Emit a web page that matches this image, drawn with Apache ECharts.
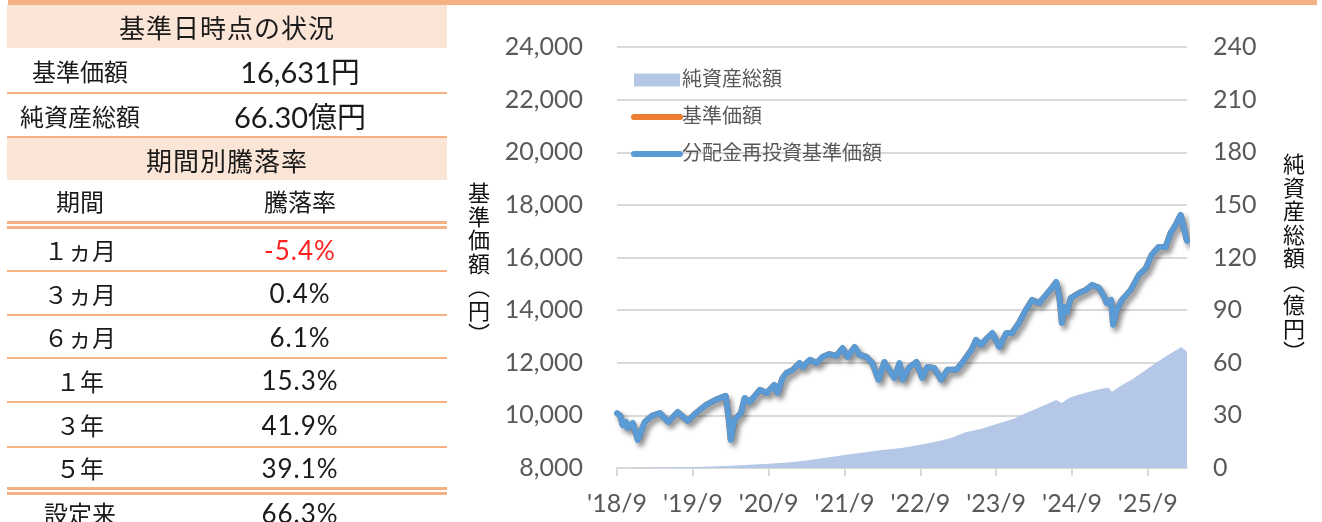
<!DOCTYPE html>
<html>
<head>
<meta charset="utf-8">
<script src="https://cdn.jsdelivr.net/npm/echarts@6/dist/echarts.min.js"></script>
<style>
body{margin:0;width:1322px;height:522px;overflow:hidden;background:#fff;font-family:Lato,'Noto Sans CJK JP',sans-serif;}
#chart{position:absolute;left:0;top:0;width:1322px;height:522px;}
#topbar{position:absolute;left:8px;top:0;width:1309px;height:5px;background:#F4B183;}
#tbl{position:absolute;left:7px;top:5px;width:440px;color:#1a1a1a;}
.r{box-sizing:border-box;display:flex;align-items:center;border-bottom:2.5px solid #F4B183;font-size:24px;}
.r.h{background:#FBE5D6;justify-content:center;font-size:26px;border-bottom:none;letter-spacing:1px;}
.r.dbl{border-bottom:8px double #F4B183;}
.c1{width:146px;text-align:center;}
.c2{width:294px;text-align:center;}
.rate .c2{font-size:26px;letter-spacing:1px;}
.big .c2{font-size:29px;}
.neg{color:#ff2020;}
</style>
</head>
<body>
<div id="chart"></div>
<div id="topbar"></div>
<div id="tbl"></div>
<script type="text/javascript">
// 基準日時点の状況
var navNow = '16,631円';
var assetsNow = '66.30億円';
// 期間別騰落率
var periods = ['１ヵ月', '３ヵ月', '６ヵ月', '１年', '３年', '５年', '設定来'];
var returns = ['-5.4%', '0.4%', '6.1%', '15.3%', '41.9%', '39.1%', '66.3%'];

// x軸: '18/9 からの経過月数
var xTickMonths = [0, 12, 24, 36, 48, 60, 72, 84];
var xTickLabels = ["'18/9", "'19/9", "'20/9", "'21/9", "'22/9", "'23/9", "'24/9", "'25/9"];

// 基準価額（円）
var navMonths = [0, 0.5, 0.9, 1.4, 1.7, 2.5, 3.3, 4.4, 5.5, 6.8, 8.1, 9.6, 11.2, 12.5, 14.1, 15.6, 17.2, 17.7, 18.0, 18.6,
	19.6, 20.2, 21.0, 22.6, 23.7, 24.9, 25.4, 26.2, 26.8, 27.8, 28.9, 29.4, 30.5, 31.6, 32.5, 33.6, 34.7, 35.7, 36.5, 37.6,
	38.4, 39.5, 40.4, 41.4, 42.3, 43.4, 43.9, 44.7, 45.2, 46.3, 47.4, 48.3, 49.1, 50.2, 51.3, 52.3, 53.7, 54.6, 56.1, 56.8,
	57.6, 58.6, 59.4, 60.5, 61.6, 62.5, 63.6, 64.7, 65.7, 66.8, 67.9, 68.8, 69.5, 70.0, 70.4, 70.7, 71.2, 71.8, 73.1, 74.2,
	75.2, 76.3, 77.1, 77.5, 78.2, 78.5, 79.1, 79.9, 81.3, 82.6, 83.7, 84.6, 85.7, 86.8, 87.6, 88.4, 89.2, 89.7, 90.2];
var navValues = [10080, 10000, 9630, 9750, 9520, 9710, 9070, 9750, 9980, 10090, 9750, 10130, 9790, 10090, 10400, 10590, 10740, 9820, 9070, 9830,
	10090, 10660, 10510, 10970, 10850, 11160, 10850, 11420, 11610, 11730, 11990, 11840, 12110, 11990, 12220, 12330, 12260, 12560, 12220, 12600,
	12300, 12220, 11990, 11350, 12030, 11610, 11420, 11990, 11350, 11840, 12030, 11420, 11840, 11800, 11350, 11730, 11730, 11990, 12490, 12870,
	12680, 12940, 13130, 12600, 13130, 13130, 13510, 14010, 14390, 14270, 14580, 14840, 15070, 14500, 13510, 14120, 13930, 14460, 14650, 14770,
	14960, 14840, 14500, 14270, 14390, 13440, 14010, 14390, 14770, 15340, 15600, 16100, 16400, 16400, 16930, 17240, 17620, 17120, 16631];

// 純資産総額（億円）
var assetMonths = [0, 3, 6, 9, 12, 15, 18, 21, 24, 27, 30, 33, 36, 39, 42, 45, 48, 51, 53, 55,
	57.5, 60, 63, 64.5, 66, 68, 69.5, 70.4, 71.5, 73, 74.6, 76.5, 77.8, 78.3, 80, 81.5, 83.5, 85.3, 87.7, 89.3, 90.2];
var assetValues = [0.05, 0.15, 0.3, 0.45, 0.6, 0.9, 1.3, 1.8, 2.4, 3.2, 4.3, 5.8, 7.4, 8.8, 10.2, 11.4, 13.3, 15.4, 17.3, 20.3,
	22.2, 25.0, 28.3, 31.0, 33.2, 36.3, 38.8, 37.1, 39.9, 41.8, 43.3, 45.0, 45.8, 43.5, 47.5, 50.5, 55.5, 60.0, 65.6, 69.0, 66.3];

// 左の表
var html = '';
html += '<div class="r h" style="height:43px">基準日時点の状況</div>';
html += '<div class="r big" style="height:46px"><span class="c1">基準価額</span><span class="c2">' + navNow + '</span></div>';
html += '<div class="r big" style="height:44px"><span class="c1">純資産総額</span><span class="c2">' + assetsNow + '</span></div>';
html += '<div class="r h" style="height:42px">期間別騰落率</div>';
html += '<div class="r dbl" style="height:49px"><span class="c1">期間</span><span class="c2">騰落率</span></div>';
var rowH = [43, 44, 43, 44, 45, 47, 40];
for (var i = 0; i < periods.length; i++) {
	var cls = 'r rate';
	if (i == 5) cls += ' dbl';
	if (i == 6) cls += '" style="border-bottom:none';
	var neg = returns[i].charAt(0) == '-' ? ' neg' : '';
	html += '<div class="' + cls + '" style="height:' + rowH[i] + 'px"><span class="c1">' + periods[i] + '</span><span class="c2' + neg + '">' + returns[i] + '</span></div>';
}
document.getElementById('tbl').innerHTML = html;

var navData = navMonths.map(function(m, i){ return [m, navValues[i]]; });
var assetData = assetMonths.map(function(m, i){ return [m, assetValues[i]]; });

var fontStack = "Lato, 'Noto Sans CJK JP', sans-serif";
var myChart = echarts.init(document.getElementById('chart'));
var option = {
	animation: false,
	textStyle: {fontFamily: fontStack},
	grid: {left: 617, right: 135, top: 47, bottom: 54},
	legend: {
		orient: 'vertical', left: 631, top: 69, padding: 0,
		itemWidth: 46, itemHeight: 13, itemGap: 15,
		textStyle: {fontSize: 20, color: '#595959', lineHeight: 22, padding: [0, 0, 0, -3]},
		data: [
			{name: '純資産総額', icon: 'rect', itemStyle: {color: '#B4C7E7'}},
			{name: '基準価額', itemStyle: {opacity: 0}, lineStyle: {width: 6, color: '#ED7D31', cap: 'round'}},
			{name: '分配金再投資基準価額', itemStyle: {opacity: 0}, lineStyle: {width: 6, color: '#5B9BD5', cap: 'round'}}
		]
	},
	xAxis: {
		type: 'value', min: 0, max: 90.2,
		axisLine: {lineStyle: {color: '#d9d9d9', width: 2}},
		axisTick: {show: true, length: 8, lineStyle: {color: '#d9d9d9', width: 2}, customValues: xTickMonths},
		axisLabel: {
			color: '#595959', fontSize: 25, margin: 23, customValues: xTickMonths,
			formatter: function(v){ return xTickLabels[xTickMonths.indexOf(v)] || ''; }
		},
		splitLine: {show: false}
	},
	yAxis: [
		{
			type: 'value', min: 8000, max: 24000, interval: 2000,
			axisLine: {show: false}, axisTick: {show: false},
			axisLabel: {color: '#595959', fontSize: 25, margin: 34,
				formatter: function(v){ return v.toLocaleString('en-US'); }},
			splitLine: {lineStyle: {color: '#d9d9d9', width: 2}}
		},
		{
			type: 'value', min: 0, max: 240, interval: 30,
			axisLine: {show: false}, axisTick: {show: false},
			axisLabel: {color: '#595959', fontSize: 25, margin: 26},
			splitLine: {show: false}
		}
	],
	graphic: [
		{type: 'text', left: 468, top: 181, style: {text: '基\n準\n価\n額\n︵\n円\n︶', fontSize: 22, lineHeight: 23.5, fill: '#111', fontFamily: "'Noto Sans CJK JP'", align: 'center'}},
		{type: 'text', left: 1283, top: 152, style: {text: '純\n資\n産\n総\n額\n︵\n億\n円\n︶', fontSize: 22, lineHeight: 23.5, fill: '#111', fontFamily: "'Noto Sans CJK JP'", align: 'center'}}
	],
	series: [
		{
			name: '純資産総額', type: 'line', yAxisIndex: 1, data: assetData,
			symbol: 'none', lineStyle: {width: 0, color: '#B4C7E7'},
			itemStyle: {color: '#B4C7E7'},
			areaStyle: {color: '#B4C7E7', opacity: 1}
		},
		{
			name: '基準価額', type: 'line', data: navData, symbol: 'none',
			itemStyle: {color: '#ED7D31'},
			lineStyle: {width: 6, color: '#ED7D31'}
		},
		{
			name: '分配金再投資基準価額', type: 'line', data: navData, symbol: 'none',
			itemStyle: {color: '#5B9BD5'},
			lineStyle: {width: 6, color: '#5B9BD5', cap: 'round', join: 'round',
				shadowColor: 'rgba(0,0,0,0.45)', shadowBlur: 5, shadowOffsetX: 3, shadowOffsetY: 4}
		}
	]
};
myChart.setOption(option);
</script>
</body>
</html>
